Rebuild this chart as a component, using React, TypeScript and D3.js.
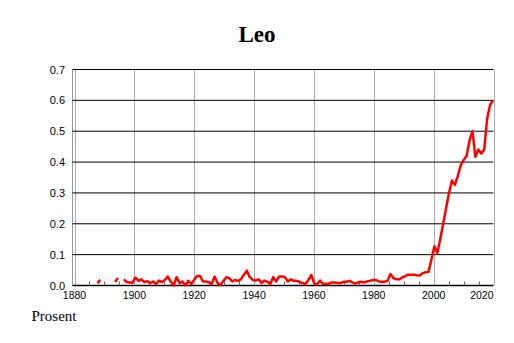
import React from "react";
import * as d3 from "d3";

const W = 514;
const H = 343;

const title = "Leo";
const yAxisTitle = "Prosent";
const firstYear = 1888;
const lastYear = 2023;
// Percent of name "Leo", one value per year from 1888 to 2023 (null = no data)
const values: (number | null)[] = [
  0.008, 0.018, null, null, null, null, 0.011, 0.024, null, 0.02,
  0.011, 0.01, 0.009, 0.026, 0.015, 0.02, 0.011, 0.014, 0.008, 0.013,
  0.005, 0.016, 0.011, 0.018, 0.029, 0.013, 0.0, 0.027, 0.008, 0.013,
  0.0, 0.015, 0.005, 0.018, 0.031, 0.031, 0.013, 0.013, 0.011, 0.005,
  0.029, 0.008, 0.002, 0.015, 0.027, 0.024, 0.013, 0.018, 0.015, 0.02,
  0.035, 0.048, 0.027, 0.018, 0.016, 0.02, 0.008, 0.016, 0.012, 0.005,
  0.027, 0.013, 0.029, 0.029, 0.027, 0.013, 0.02, 0.015, 0.015, 0.012,
  0.008, 0.005, 0.018, 0.034, 0.006, 0.004, 0.016, 0.005, 0.006, 0.006,
  0.01, 0.01, 0.008, 0.008, 0.012, 0.012, 0.015, 0.01, 0.006, 0.01,
  0.012, 0.01, 0.013, 0.015, 0.018, 0.018, 0.013, 0.012, 0.012, 0.015,
  0.037, 0.024, 0.02, 0.02, 0.026, 0.03, 0.035, 0.035, 0.035, 0.033,
  0.032, 0.04, 0.043, 0.044, 0.085, 0.127, 0.105, 0.15, 0.2, 0.25,
  0.3, 0.34, 0.326, 0.355, 0.39, 0.407, 0.42, 0.47, 0.5, 0.417,
  0.441, 0.428, 0.44, 0.54, 0.585, 0.6,
];
const years = d3.range(firstYear, lastYear + 1);

const xTickYears = [1880, 1900, 1920, 1940, 1960, 1980, 2000, 2020];
const xMinorYears = d3.range(1885, 2020, 5).filter((y) => y % 20 !== 0);
const yTicks = [0, 0.1, 0.2, 0.3, 0.4, 0.5, 0.6, 0.7];

export default function App() {
  const left = 72.5;
  const right = 493.5;
  const top = 69.5;
  const bottom = 285.5;

  const xAxis = d3.scaleLinear().domain([1880, 2020]).range([74.5, 493.5]);
  const xData = d3.scaleLinear().domain([1880, 2023]).range([74, 493]);
  const y = d3.scaleLinear().domain([0, 0.7]).range([bottom, top]);

  const data = years.map((yr, i) => ({ yr, v: values[i] }));
  const line = d3
    .line<{ yr: number; v: number | null }>()
    .defined((d) => d.v !== null)
    .x((d) => xData(d.yr))
    .y((d) => y(d.v as number));

  return (
    <div style={{ position: "absolute", left: 0, top: 0 }}>
      <svg width={W} height={H} style={{ display: "block", background: "#fff" }}>
        <text
          x={257}
          y={41.5}
          textAnchor="middle"
          fontFamily="Liberation Serif, Times New Roman, serif"
          fontWeight="bold"
          fontSize={23}
        >
          {title}
        </text>
        {/* vertical gridlines */}
        {xTickYears.map((t) => (
          <line
            key={"vg" + t}
            x1={Math.round(xAxis(t)) + 0.5}
            x2={Math.round(xAxis(t)) + 0.5}
            y1={top}
            y2={bottom}
            stroke="#aaa"
            strokeWidth={1}
          />
        ))}
        {/* left frame */}
        <line x1={left} x2={left} y1={top} y2={bottom} stroke="#999" strokeWidth={1} />
        {/* horizontal gridlines */}
        {yTicks.map((t) => (
          <line
            key={"hg" + t}
            x1={left}
            x2={right}
            y1={y(t)}
            y2={y(t)}
            stroke="#000"
            strokeWidth={t === 0 ? 1.5 : 1}
          />
        ))}
        {/* minor ticks */}
        {xMinorYears.map((t) => (
          <line
            key={"mt" + t}
            x1={Math.round(xAxis(t)) + 0.5}
            x2={Math.round(xAxis(t)) + 0.5}
            y1={bottom - 4}
            y2={bottom}
            stroke="#666"
            strokeWidth={1}
          />
        ))}
        {/* y labels */}
        {yTicks.map((t) => (
          <text
            key={"yl" + t}
            x={65}
            y={y(t) + 4}
            textAnchor="end"
            fontFamily="Liberation Sans, Arial, sans-serif"
            fontSize={11}
          >
            {t.toFixed(1)}
          </text>
        ))}
        {/* x labels */}
        {xTickYears.map((t, i) => (
          <text
            key={"xl" + t}
            x={i === xTickYears.length - 1 ? right : xAxis(t)}
            y={298.5}
            textAnchor={i === xTickYears.length - 1 ? "end" : "middle"}
            fontFamily="Liberation Sans, Arial, sans-serif"
            fontSize={10.5}
          >
            {t}
          </text>
        ))}
        <path
          d={line(data) || ""}
          fill="none"
          stroke="#ff0000"
          strokeWidth={2.5}
          strokeLinejoin="round"
        />
        <text
          x={31.5}
          y={321}
          fontFamily="Liberation Serif, Times New Roman, serif"
          fontSize={15}
        >
          {yAxisTitle}
        </text>
      </svg>
    </div>
  );
}
